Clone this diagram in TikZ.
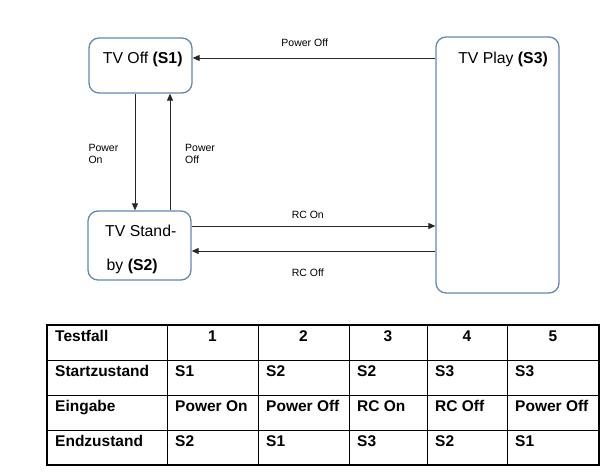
\documentclass[tikz,border=0pt]{standalone}
\usepackage{fontspec}
\setmainfont{Liberation Sans}
\usetikzlibrary{arrows.meta}
\definecolor{boxblue}{RGB}{100,135,178}
\tikzset{
  statebox/.style={draw=boxblue, line width=1.3pt, rounded corners=10pt, fill=white, inner sep=0pt},
  big/.style={font=\fontsize{15.8}{19}\selectfont, inner sep=0pt, anchor=base west},
  small/.style={font=\fontsize{10.5}{11.6}\selectfont, inner sep=0pt, anchor=base west, align=left},
  arr/.style={draw=black!85, line width=0.9pt, -{Triangle[length=7pt,width=6pt]}},
  cell/.style={font=\fontsize{15.5}{18}\selectfont\bfseries, inner sep=0pt, anchor=base west},
  hcell/.style={font=\fontsize{15.5}{18}\selectfont\bfseries, inner sep=0pt, anchor=base},
}
\begin{document}
\begin{tikzpicture}[x=1pt,y=-1pt]
\useasboundingbox (0,0) rectangle (615,473);
% state boxes
\node[statebox, minimum width=103pt, minimum height=55pt] (s1) at (140.5,65.5) {};
\node[statebox, minimum width=103pt, minimum height=69pt] (s2) at (139.5,245.5) {};
\node[statebox, minimum width=123pt, minimum height=256pt] (s3) at (497.5,165) {};
\node[big] (t1) at (102.7,63.3) {TV Off \textbf{(S1)}};
\node[big] (t2a) at (105,236) {TV Stand-};
\node[big] (t2b) at (106.5,270) {by \textbf{(S2)}};
\node[big, anchor=base east] (t3) at (548,63.3) {TV Play \textbf{(S3)}};
% connector coordinates
\coordinate (xa) at (135,0);
\coordinate (xb) at (170,0);
\coordinate (ya) at (0,58);
\coordinate (yb) at (0,226);
\coordinate (yc) at (0,251);
\draw[arr] (xa |- s1.south) -- (xa |- s2.north);
\draw[arr] (xb |- s2.north) -- (xb |- s1.south);
\draw[arr] (ya -| s3.west) -- (ya -| s1.east);
\draw[arr] (yb -| s2.east) -- (yb -| s3.west);
\draw[arr] (yc -| s3.west) -- (yc -| s2.east);
% labels
\node[small] (lpon) at (88.3,163.3) {Power\\On};
\node[small] (lpoff) at (185,163.3) {Power\\Off};
\node[small, anchor=base] (ltop) at (304.7,46.7) {Power Off};
\node[small, anchor=base] (lrcon) at (307.8,218.3) {RC On};
\node[small, anchor=base] (lrcoff) at (307.8,276) {RC Off};
% table
\draw[line width=0.8pt] (167,325) -- (167,465) (258,325) -- (258,465) (349,325) -- (349,465)
  (427,325) -- (427,465) (507,325) -- (507,465)
  (47,360.5) -- (599,360.5) (47,395.5) -- (599,395.5) (47,430.5) -- (599,430.5);
\draw[line width=1.8pt] (47,325) rectangle (599,465);
\node[cell] (h0) at (55,341) {Testfall};
\node[hcell] (h1) at (212.5,341) {1};
\node[hcell] (h2) at (303.5,341) {2};
\node[hcell] (h3) at (388,341) {3};
\node[hcell] (h4) at (467,341) {4};
\node[hcell] (h5) at (553,341) {5};
\node[cell] (a0) at (55,376.5) {Startzustand};
\node[cell] (a1) at (175,376.5) {S1};
\node[cell] (a2) at (266,376.5) {S2};
\node[cell] (a3) at (357,376.5) {S2};
\node[cell] (a4) at (435,376.5) {S3};
\node[cell] (a5) at (515,376.5) {S3};
\node[cell] (b0) at (55,411.5) {Eingabe};
\node[cell] (b1) at (175,411.5) {Power On};
\node[cell] (b2) at (266,411.5) {Power Off};
\node[cell] (b3) at (357,411.5) {RC On};
\node[cell] (b4) at (435,411.5) {RC Off};
\node[cell] (b5) at (515,411.5) {Power Off};
\node[cell] (c0) at (55,446.5) {Endzustand};
\node[cell] (c1) at (175,446.5) {S2};
\node[cell] (c2) at (266,446.5) {S1};
\node[cell] (c3) at (357,446.5) {S3};
\node[cell] (c4) at (435,446.5) {S2};
\node[cell] (c5) at (515,446.5) {S1};
\end{tikzpicture}
\end{document}
